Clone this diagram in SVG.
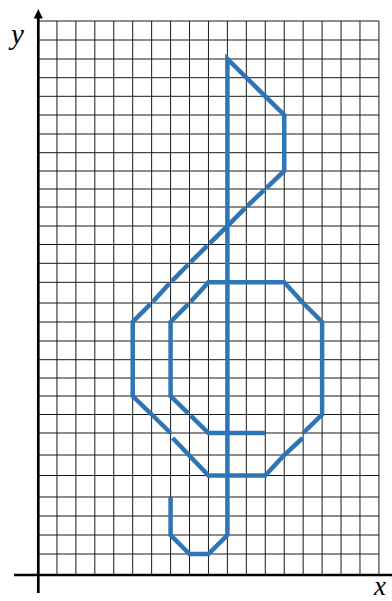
<svg xmlns="http://www.w3.org/2000/svg" width="392" height="601" viewBox="0 0 392 601">
<style>
.g{stroke:#1a1a1a;stroke-width:1;fill:none}
.ax{stroke:#000;stroke-width:2.7;fill:none}
.c{fill:none;stroke:#2E75B6;stroke-width:4.5;stroke-linejoin:miter;stroke-linecap:butt}
.lbl{font-family:"Liberation Serif","Times New Roman",serif;font-style:italic;font-size:29px;fill:#000}
</style>
<rect width="392" height="601" fill="#fff"/>
<g id="grid" class="g">
<path d="M56.94,21V575M75.88,21V575M94.82,21V575M113.76,21V575M132.7,21V575M151.64,21V575M170.58,21V575M189.52,21V575M208.46,21V575M227.4,21V575M246.34,21V575M265.28,21V575M284.22,21V575M303.16,21V575M322.1,21V575M341.04,21V575M359.98,21V575M378.92,21V575"/>
<path d="M38,21H378.92M38,40H378.92M38,59H378.92M38,77.7H378.92M38,96.3H378.92M38,115H378.92M38,134H378.92M38,152.7H378.92M38,171H378.92M38,189H378.92M38,207H378.92M38,226H378.92M38,244.5H378.92M38,263.3H378.92M38,282.3H378.92M38,303H378.92M38,322H378.92M38,341H378.92M38,359.7H378.92M38,378H378.92M38,396H378.92M38,414.5H378.92M38,433H378.92M38,455H378.92M38,475.5H378.92M38,497H378.92M38,516H378.92M38,535H378.92M38,554H378.92"/>
</g>
<g id="axes">
<path class="ax" d="M38.3,17V593"/>
<polygon points="38.3,9 33.8,18.5 42.8,18.5" fill="#000"/>
<path class="ax" d="M14,575H392" stroke-width="2.5"/>
<text class="lbl" x="11" y="43.5">y</text>
<text class="lbl" x="374" y="595" style="font-size:27px">x</text>
</g>
<g id="clef">
<path class="c" d="M170.58,497V535L189.52,554H208.46L227.4,535V59L284.22,115V171L266.5,187.8"/>
<path class="c" d="M264.1,190.2L247.5,205.8M245.1,208.2L228.6,224.8M226.2,227.2L209.7,243.3M207.3,245.7L190.7,262.1M188.3,264.5L171.8,281.1M169.4,283.5L152.8,301.8"/>
<path class="c" d="M150.4,304.2L132.7,322V396L151.64,414.5L170.58,433"/>
<path class="c" d="M172.6,438L208.46,475.5H265.28L284.22,455L302.7,438"/>
<path class="c" d="M303.16,433L322.1,414.5V322L303.16,303L284.22,282.3H208.46L190.7,301.8"/>
<path class="c" d="M188.3,304.2L170.58,322V396L188.3,413.3"/>
<path class="c" d="M190.7,415.7L208.46,433H265.28"/>
</g>
</svg>
